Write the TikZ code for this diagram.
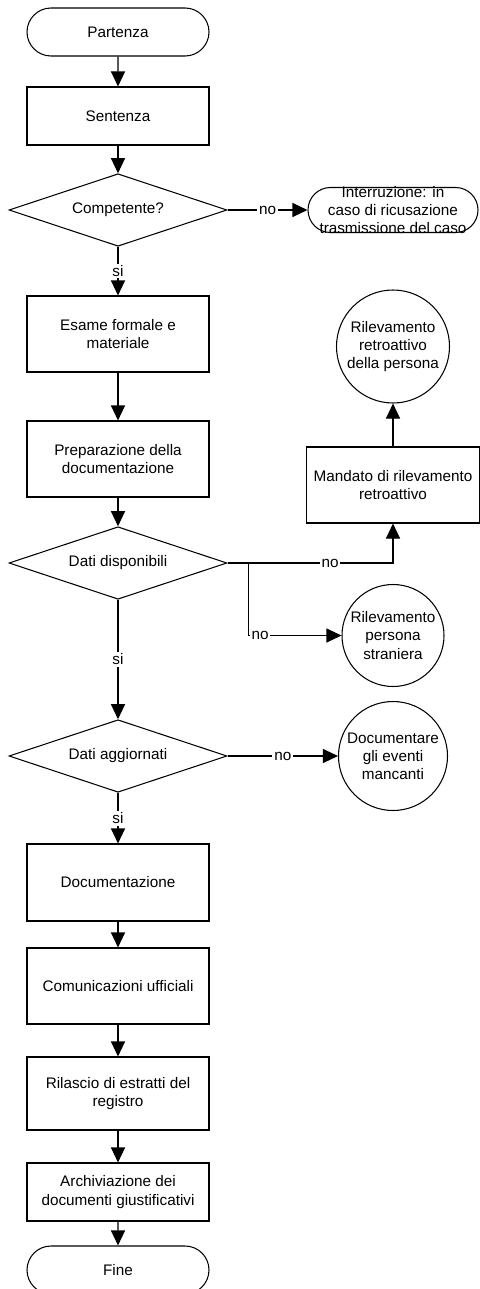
\documentclass[tikz,border=0pt]{standalone}
\usepackage{fontspec}
\setmainfont{Liberation Sans}
\usetikzlibrary{shapes.geometric}
\usetikzlibrary{shapes.misc}
\usetikzlibrary{arrows.meta,arrows}

\begin{document}
\begin{tikzpicture}[>={Triangle[length=3mm, width=2.8mm]}, line width=0.6pt,
    font=\fontsize{8.7}{10.3}\selectfont,
    term/.style={draw, rounded rectangle, minimum width=3.64cm, minimum height=0.96cm, inner sep=0pt},
    proc/.style={draw, rectangle, minimum width=3.64cm, align=center},
    dec/.style={draw, diamond, aspect=3, minimum width=4.36cm, minimum height=1.45cm, inner sep=0pt},
    conn/.style={draw, circle, align=center, inner sep=0pt},
    lbl/.style={fill=white, inner sep=1pt}]

        \useasboundingbox (0,0) rectangle (9.58,-25.78);

        % Main column
        \node at (2.36,-0.64) [term] (start) {Partenza};
        \node at (2.36,-2.32) [proc, minimum height=1.16cm] (sentenza) {Sentenza};
        \node at (2.36,-4.2) [dec] (comp) {Competente?};
        \node at (2.36,-6.68) [proc, minimum height=1.52cm] (esame) {Esame formale e\\materiale};
        \node at (2.36,-9.18) [proc, minimum height=1.52cm] (prep) {Preparazione della\\documentazione};
        \node at (2.36,-11.26) [dec] (dispon) {Dati disponibili};
        \node at (2.36,-15.12) [dec] (aggiorn) {Dati aggiornati};
        \node at (2.36,-17.65) [proc, minimum height=1.54cm] (doc) {Documentazione};
        \node at (2.36,-19.72) [proc, minimum height=1.52cm] (comun) {Comunicazioni ufficiali};
        \node at (2.36,-21.87) [proc, minimum height=1.46cm] (rilascio) {Rilascio di estratti del\\registro};
        \node at (2.36,-23.84) [proc, minimum height=1.16cm] (archiv) {Archiviazione dei\\documenti giustificativi};
        \node at (2.36,-25.4) [term] (fine) {Fine};

        % Side branches
        \node at (7.86,-4.2) [term, minimum width=3.4cm, minimum height=0.9cm,
            label={[align=center]center:{Interruzione: in\\caso di ricusazione\\trasmissione del caso}}] (interr) {};
        \node at (7.86,-6.93) [conn, minimum size=2.26cm] (retro) {Rilevamento\\retroattivo\\della persona};
        \node at (7.86,-9.7) [proc, minimum width=3.46cm, minimum height=1.52cm] (mandato) {Mandato di rilevamento\\retroattivo};
        \node at (7.86,-12.71) [conn, minimum size=2.04cm] (stran) {Rilevamento\\persona\\straniera};
        \node at (7.86,-15.12) [conn, minimum size=2.18cm] (docev) {Documentare\\gli eventi\\mancanti};

        \coordinate (split) at ([xshift=0.42cm]dispon.east);

        % Arrows
        \draw[->] (start) -- (sentenza);
        \draw[->] (sentenza) -- (comp);
        \draw[->] (comp) -- (interr) node[midway, lbl] {no};
        \draw[->] (comp) -- (esame) node[midway, lbl] {si};
        \draw[->] (esame) -- (prep);
        \draw[->] (prep) -- (dispon);
        \draw[->] (dispon.east) -| (mandato) node[pos=0.31, lbl] {no};
        \draw[->] (mandato) -- (retro);
        \draw[->] (split) |- (stran) node[pos=0.5, anchor=west, xshift=0.5pt, lbl] {no};
        \draw[->] (dispon) -- (aggiorn) node[midway, lbl] {si};
        \draw[->] (aggiorn) -- (docev) node[midway, lbl] {no};
        \draw[->] (aggiorn) -- (doc) node[midway, lbl] {si};
        \draw[->] (doc) -- (comun);
        \draw[->] (comun) -- (rilascio);
        \draw[->] (rilascio) -- (archiv);
        \draw[->] (archiv) -- (fine);

    \end{tikzpicture}
\end{document}
